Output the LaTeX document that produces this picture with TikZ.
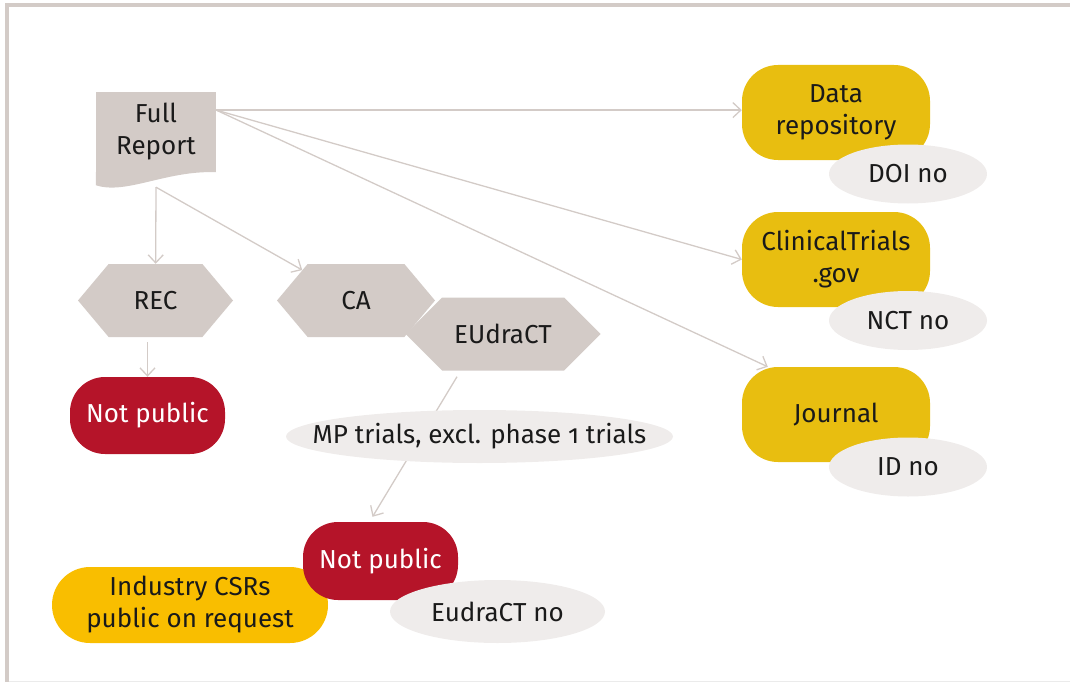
\documentclass[tikz,border=0pt]{standalone}
\usepackage{fontspec}
\setsansfont{Fira Sans}[Numbers=OldStyle]
\usetikzlibrary{arrows.meta}
\usetikzlibrary{shapes}

\definecolor{stone}{HTML}{D3CBC7}
\definecolor{mist}{HTML}{EFECEB}
\definecolor{gold}{HTML}{E8BE10}
\definecolor{amber}{HTML}{F9BE00}
\definecolor{wine}{HTML}{B51429}
\definecolor{ink}{HTML}{1A1A1A}

\begin{document}
\begin{tikzpicture}[x = 1pt, y = -1pt, font = \sffamily\fontsize{26}{32}\selectfont, text = ink]
	\tikzstyle{hexStyle}=[shape = signal, signal to = west and east, signal pointer angle = 100, fill = stone, inner sep = 0pt, minimum height = 73pt]
	\tikzstyle{sourceStyle}=[shape = rectangle, fill = stone, align = center, minimum width = 120pt, minimum height = 80pt]
	\tikzstyle{registryStyle}=[shape = rectangle, rounded corners = 36pt, fill = gold, align = center, minimum width = 188pt, minimum height = 95pt]
	\tikzstyle{closedStyle}=[shape = rectangle, rounded corners = 35pt, fill = wine, text = white, minimum width = 155pt, minimum height = 77pt]
	\tikzstyle{idStyle}=[shape = ellipse, fill = mist, inner xsep = -100pt, inner ysep = -30pt, minimum width = 158pt, minimum height = 59pt]
	\tikzstyle{flowStyle}=[draw = stone, line width = 1.3pt, -{Straight Barb[length = 8pt, width = 15pt]}]
	\useasboundingbox (0,0) rectangle (1070,682);
	\draw[stone, line width = 4pt] (1070,5) -- (6.5,5) -- (6.5,682);
	\draw[black!8, line width = 1pt] (8.5,681) -- (1070,681);
	\node[sourceStyle] (fr) at (156,132) {Full\\Report};
	\fill[stone] (fr.south west) -- ++(0,13) .. controls +(30,10) and +(-50,-2) .. (fr.south east) -- cycle;
	\coordinate (frfoot) at ([yshift = -15pt]fr.south);
	\node[hexStyle, minimum width = 155pt] (rec) at (155.5,300.5) {REC};
	\node[hexStyle, minimum width = 158pt] (ca) at (356,300.5) {CA};
	\node[hexStyle, minimum width = 195pt, signal pointer angle = 90] (eu) at (503,334) {EUdraCT};
	\node[closedStyle] (np1) at (147.5,415.5) {Not public};
	\node[registryStyle] (dr) at (836,112.5) {Data\\repository};
	\node[registryStyle] (ct) at (836,259.5) {ClinicalTrials\\.gov};
	\node[registryStyle] (jr) at (836,414.5) {Journal};
	\node[closedStyle, fill = amber, text = ink, align = center, minimum width = 276pt, minimum height = 76pt, rounded corners = 38pt] (ind) at (190,605) {Industry CSRs\\public on request};
	\node[closedStyle, minimum height = 78pt] (np2) at (380.5,561) {Not public};
	\draw[flowStyle] (frfoot) -- (rec);
	\draw[flowStyle] (frfoot) -- (ca);
	\draw[flowStyle] (fr.20) -- (fr.20 -| dr.west);
	\draw[flowStyle] (fr.20) -- (ct.west);
	\draw[flowStyle] (fr.20) -- ([xshift = 26pt]jr.north west);
	\draw[flowStyle, shorten <= 5pt] (rec.south -| np1) -- (np1);
	\draw[flowStyle] ([xshift = -46pt, yshift = -6pt]eu.south) -- ([xshift = -8pt, yshift = 5pt]np2.north);
	\node[idStyle, minimum width = 387pt, minimum height = 53pt] (mp) at (479.5,436.5) {MP trials, excl. phase 1 trials};
	\node[idStyle] (doi) at (908,174) {DOI no};
	\node[idStyle] (nct) at (908,320.5) {NCT no};
	\node[idStyle] (idn) at (908,467) {ID no};
	\node[idStyle, minimum width = 215pt, minimum height = 63pt] (eno) at (497.5,611.5) {EudraCT no};
\end{tikzpicture}
\end{document}
